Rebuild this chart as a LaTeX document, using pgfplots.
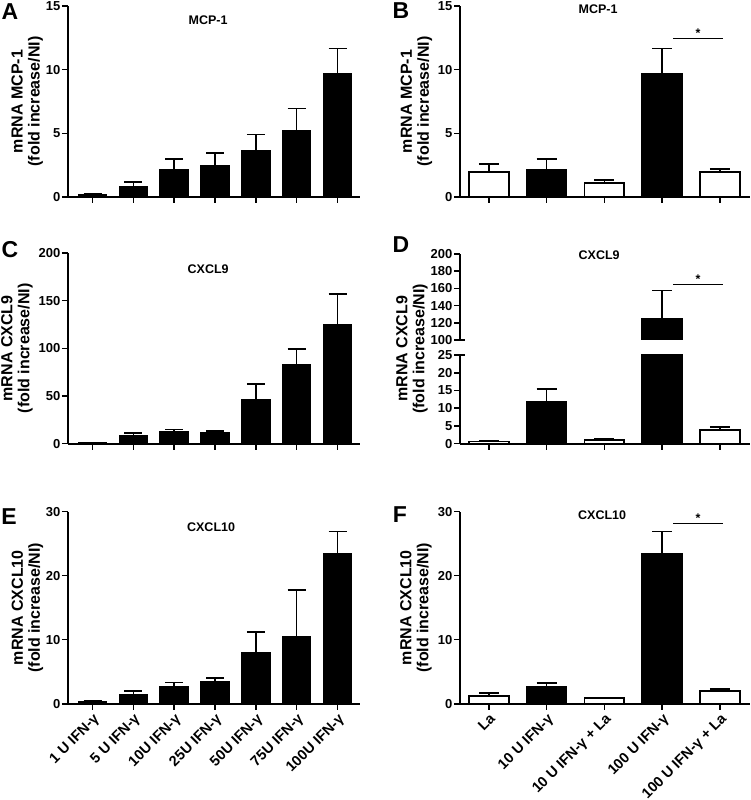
\documentclass[border=0pt]{standalone}
\usepackage{fontspec}
\setmainfont{Liberation Sans}
\usepackage{pgfplots}
\pgfplotsset{compat=1.18}

\newcommand{\tkf}{\bfseries\fontsize{13}{14}\selectfont}
\newcommand{\xtkf}{\bfseries\fontsize{14.5}{15}\selectfont}
\newcommand{\ttl}{\bfseries\fontsize{12.5}{13}\selectfont}
\newcommand{\pl}{\bfseries\fontsize{23}{23}\selectfont}

\pgfplotsset{
  panel/.style={
    scale only axis,
    axis x line*=bottom, axis y line*=left,
    xtick pos=left, ytick pos=left,
    axis line style={-, line width=2pt, black},
    every tick/.style={black, line width=1.6pt},
    tick align=outside,
    major tick length=6pt,
    ybar, bar shift=0pt,
    clip mode=individual,
    /pgf/number format/assume math mode=true,
    yticklabel={\tkf\pgfmathprintnumber{\tick}},
    yticklabel style={inner sep=1.5pt, font=\tkf},
    xticklabel style={font=\xtkf},
    ymin=0,
    ylabel style={font=\bfseries\fontsize{16}{17}\selectfont, align=center, anchor=center},
    error bars/y dir=plus, error bars/y explicit,
    error bars/error mark=-,
    error bars/error bar style={line width=1.6pt, black},
    error bars/error mark options={rotate=90, line width=1.6pt, black, mark size=9pt},
  },
  leftpanel/.style={panel, width=292pt, xmin=-0.6, xmax=6.55, xtick={0,...,6}, bar width=0.68},
  rightpanel/.style={panel, width=290pt, xmin=-0.5, xmax=4.52, xtick={0,...,4}, bar width=0.69,
    error bars/error mark options={rotate=90, line width=1.6pt, black, mark size=10pt}},
  blk/.style={fill=black, draw=black, line width=1.6pt},
  wht/.style={fill=white, draw=black, line width=1.8pt},
}

\begin{document}
\begin{tikzpicture}[x=1pt,y=1pt]
\useasboundingbox (0,0) rectangle (750,800);

% Panel letters
\node[font=\pl] at (10,788) {A};
\node[font=\pl] at (401,789) {B};
\node[font=\pl] at (10,550) {C};
\node[font=\pl] at (401,555) {D};
\node[font=\pl] at (9,283) {E};
\node[font=\pl] at (400,285) {F};

% ---------------- A ----------------
\begin{axis}[leftpanel, at={(68pt,603pt)}, anchor=south west, height=191pt,
  ymax=15, ytick={0,5,10,15}, xticklabels={},
  ylabel={mRNA MCP-1\\(fold increase/NI)},
  ylabel style={at={(axis description cs:-0.14,0.5)}}]
\addplot[blk] coordinates {
  (0,0.2) +- (0,0.05)
  (1,0.8) +- (0,0.38)
  (2,2.1) +- (0,0.9)
  (3,2.45) +- (0,1.0)
  (4,3.6) +- (0,1.3)
  (5,5.2) +- (0,1.75)
  (6,9.7) +- (0,1.95)
};
\node[font=\ttl] at (rel axis cs:0.48,0.927) {MCP-1};
\end{axis}

% ---------------- B ----------------
\begin{axis}[rightpanel, at={(460pt,603pt)}, anchor=south west, height=191pt,
  ymax=15, ytick={0,5,10,15}, xticklabels={},
  ylabel={mRNA MCP-1\\(fold increase/NI)},
  ylabel style={at={(axis description cs:-0.15,0.5)}}]
\addplot[wht] coordinates {
  (0,1.95) +- (0,0.62)
  (2,1.07) +- (0,0.26)
  (4,1.95) +- (0,0.27)
};
\addplot[blk] coordinates {
  (1,2.1) +- (0,0.9)
  (3,9.7) +- (0,1.95)
};
\draw[line width=1.3pt] (axis cs:3.19,12.47) -- (axis cs:4.06,12.47);
\node[font=\ttl, anchor=south, inner sep=1pt] at (axis cs:3.62,12.47) {*};
\node[font=\ttl] at (rel axis cs:0.476,0.983) {MCP-1};
\end{axis}

% ---------------- C ----------------
\begin{axis}[leftpanel, at={(68pt,356.3pt)}, anchor=south west, height=190.7pt,
  ymax=200, ytick={0,50,100,150,200}, xticklabels={},
  ylabel={mRNA CXCL9\\(fold increase/NI)},
  ylabel style={at={(axis description cs:-0.175,0.5)}}]
\addplot[blk] coordinates {
  (0,1.0) +- (0,0.3)
  (1,8.0) +- (0,3.5)
  (2,12.3) +- (0,2.7)
  (3,11.2) +- (0,1.8)
  (4,45.8) +- (0,16.8)
  (5,82.5) +- (0,16.8)
  (6,124.5) +- (0,32.5)
};
\node[font=\ttl] at (rel axis cs:0.48,0.915) {CXCL9};
\end{axis}

% ---------------- D (upper segment) ----------------
\begin{axis}[rightpanel, at={(460pt,460pt)}, anchor=south west, height=86pt,
  ymin=100, ymax=200, ytick={100,120,...,200},
  axis x line=none, xtick=\empty]
\addplot[blk] coordinates {
  (3,125) +- (0,32.5)
};
\draw[line width=2pt] (rel axis cs:0,0) -- ([xshift=5pt]rel axis cs:0,0);
\draw[line width=1.3pt] (axis cs:3.19,164.8) -- (axis cs:4.06,164.8);
\node[font=\ttl, anchor=south, inner sep=1pt] at (axis cs:3.62,164.8) {*};
\node[font=\ttl] at (rel axis cs:0.48,0.985) {CXCL9};
\end{axis}

% ---------------- D (lower segment) ----------------
\begin{axis}[rightpanel, at={(460pt,356.3pt)}, anchor=south west, height=88.7pt,
  ymin=0, ymax=25, ytick={0,5,...,25}, xticklabels={},
  ylabel={mRNA CXCL9\\(fold increase/NI)},
  ylabel style={at={(axis description cs:-0.166,1.07)}}]
\addplot[wht] coordinates {
  (0,0.6) +- (0,0.25)
  (2,1.05) +- (0,0.45)
  (4,3.95) +- (0,0.75)
};
\addplot[blk] coordinates {
  (1,11.9) +- (0,3.5)
  (3,125) +- (0,32.5)
};
\draw[line width=2pt] (rel axis cs:0,1) -- ([xshift=5pt]rel axis cs:0,1);
\end{axis}

% ---------------- E ----------------
\begin{axis}[leftpanel, at={(68pt,96.3pt)}, anchor=south west, height=192pt,
  ymax=30, ytick={0,10,20,30},
  xticklabels={1 U IFN-γ,5 U IFN-γ,10U IFN-γ,25U IFN-γ,50U IFN-γ,75U IFN-γ,100U IFN-γ},
  xticklabel style={rotate=45, anchor=north east, inner sep=2pt},
  ylabel={mRNA CXCL10\\(fold increase/NI)},
  ylabel style={at={(axis description cs:-0.139,0.5)}}]
\addplot[blk] coordinates {
  (0,0.3) +- (0,0.12)
  (1,1.4) +- (0,0.6)
  (2,2.6) +- (0,0.7)
  (3,3.35) +- (0,0.62)
  (4,7.97) +- (0,3.23)
  (5,10.4) +- (0,7.4)
  (6,23.4) +- (0,3.5)
};
\node[font=\ttl] at (rel axis cs:0.49,0.92) {CXCL10};
\end{axis}

% ---------------- F ----------------
\begin{axis}[rightpanel, at={(460pt,96.3pt)}, anchor=south west, height=192pt,
  ymax=30, ytick={0,10,20,30},
  xticklabels={La,10 U IFN-γ,10 U IFN-γ + La,100 U IFN-γ,100 U IFN-γ + La},
  xticklabel style={rotate=45, anchor=north east, inner sep=2pt},
  ylabel={mRNA CXCL10\\(fold increase/NI)},
  ylabel style={at={(axis description cs:-0.152,0.5)}}]
\addplot[wht] coordinates {
  (0,1.2) +- (0,0.47)
  (2,0.84) +- (0,0.16)
  (4,1.98) +- (0,0.32)
};
\addplot[blk] coordinates {
  (1,2.66) +- (0,0.57)
  (3,23.4) +- (0,3.5)
};
\draw[line width=1.3pt] (axis cs:3.19,28.2) -- (axis cs:4.06,28.2);
\node[font=\ttl, anchor=south, inner sep=1pt] at (axis cs:3.62,28.2) {*};
\node[font=\ttl] at (rel axis cs:0.49,0.983) {CXCL10};
\end{axis}
\end{tikzpicture}
\end{document}
